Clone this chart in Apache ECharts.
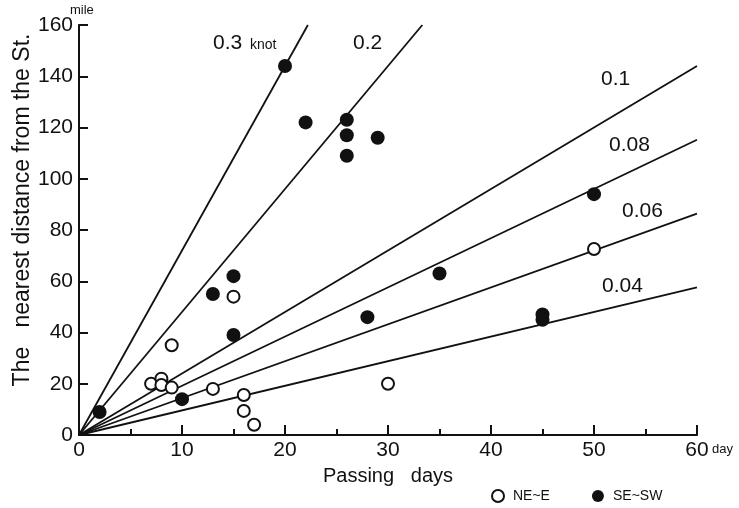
<!DOCTYPE html>
<html>
<head>
<meta charset="utf-8">
<script src="https://cdn.jsdelivr.net/npm/echarts@6/dist/echarts.min.js"></script>
<style>
html,body{margin:0;padding:0;background:#fff;}
#chart{width:739px;height:508px;}
</style>
</head>
<body>
<div id="chart"></div>
<script>
// Speeds in knots; lines drawn as distance = knots * 24 * days
var speeds = [0.3, 0.2, 0.1, 0.08, 0.06, 0.04];
var xMax = 60, yMax = 160;
var xTicks = [0, 10, 20, 30, 40, 50, 60];
var yTicks = [0, 20, 40, 60, 80, 100, 120, 140, 160];

// NE~E (open circles): [days, miles]
var neE = [
  [7, 20], [8, 22], [8, 19.5], [9, 18.5], [9, 35], [13, 18],
  [15, 54], [16, 15.6], [16, 9.4], [17, 4], [30, 20], [50, 72.6]
];
// SE~SW (filled circles): [days, miles]
var seSW = [
  [2, 9], [10, 14], [13, 55], [15, 62], [15, 39], [20, 144],
  [22, 122], [26, 123], [26, 117], [26, 109], [29, 116],
  [28, 46], [35, 63], [45, 47], [45, 45], [50, 94]
];

function lineData(k) {
  var perDay = k * 24;
  var xEnd = Math.min(xMax, yMax / perDay);
  return [[0, 0], [xEnd, xEnd * perDay]];
}

var FONT = '"Liberation Sans", Arial, Helvetica, sans-serif';

var series = speeds.map(function (k) {
  return {
    type: 'line',
    data: lineData(k),
    showSymbol: false,
    symbol: 'none',
    silent: true,
    lineStyle: { color: '#111', width: 1.8 },
    z: 2
  };
});

series.push({
  name: 'NE~E',
  type: 'scatter',
  data: neE,
  symbol: 'circle',
  symbolSize: 12,
  itemStyle: { color: '#fff', borderColor: '#111', borderWidth: 2, opacity: 1 },
  z: 5
});
series.push({
  name: 'SE~SW',
  type: 'scatter',
  data: seSW,
  symbol: 'circle',
  symbolSize: 14,
  itemStyle: { color: '#111', opacity: 1 },
  z: 5
});

var chart = echarts.init(document.getElementById('chart'), null, { renderer: 'canvas' });
chart.setOption({
  backgroundColor: '#fff',
  animation: false,
  textStyle: { fontFamily: FONT },
  grid: { left: 79, right: 42, top: 25, bottom: 73, containLabel: false },
  legend: {
    data: [
      { name: 'NE~E', icon: 'circle', itemStyle: { color: '#fff', borderColor: '#111', borderWidth: 2 } },
      { name: 'SE~SW', icon: 'circle', itemStyle: { color: '#111' } }
    ],
    left: 486,
    top: 484,
    itemWidth: 12,
    itemHeight: 12,
    itemGap: 42,
    textStyle: { fontFamily: FONT, fontSize: 14, color: '#111', padding: [0, 0, 0, 4] }
  },
  xAxis: {
    type: 'value',
    min: 0, max: xMax, interval: 10,
    name: 'Passing   days',
    nameLocation: 'middle',
    nameGap: 31,
    nameTextStyle: { fontFamily: FONT, fontSize: 20, color: '#111' },
    axisLine: { show: true, lineStyle: { color: '#111', width: 2 } },
    axisTick: { show: true, inside: true, length: 10, lineStyle: { color: '#111', width: 2 } },
    minorTick: { show: true, splitNumber: 2, length: 6, lineStyle: { color: '#111', width: 2 } },
    axisLabel: { fontFamily: FONT, fontSize: 21, color: '#111', margin: 5,
      formatter: function (v) { return xTicks.indexOf(v) >= 0 ? String(v) : ''; } },
    splitLine: { show: false }
  },
  yAxis: {
    type: 'value',
    min: 0, max: yMax, interval: 20,
    axisLine: { show: true, onZero: false, lineStyle: { color: '#111', width: 2 } },
    axisTick: { show: true, inside: true, length: 9, lineStyle: { color: '#111', width: 2 } },
    axisLabel: { fontFamily: FONT, fontSize: 21, color: '#111', margin: 6,
      formatter: function (v) { return yTicks.indexOf(v) >= 0 ? String(v) : ''; } },
    splitLine: { show: false }
  },
  graphic: [
    { type: 'text', x: 23, y: 210, rotation: Math.PI / 2,
      style: { text: 'The   nearest distance from the St.', font: '23px ' + FONT, fill: '#111',
        align: 'center', verticalAlign: 'middle' } },
    { type: 'text', x: 70, y: 4, style: { text: 'mile', font: '13px ' + FONT, fill: '#111' } },
    { type: 'text', x: 712, y: 443, style: { text: 'day', font: '13px ' + FONT, fill: '#111' } },
    { type: 'text', x: 213, y: 33, style: { text: '0.3', font: '21px ' + FONT, fill: '#111' } },
    { type: 'text', x: 250, y: 38, style: { text: 'knot', font: '14px ' + FONT, fill: '#111' } },
    { type: 'text', x: 353, y: 33, style: { text: '0.2', font: '21px ' + FONT, fill: '#111' } },
    { type: 'text', x: 601, y: 69, style: { text: '0.1', font: '21px ' + FONT, fill: '#111' } },
    { type: 'text', x: 609, y: 135, style: { text: '0.08', font: '21px ' + FONT, fill: '#111' } },
    { type: 'text', x: 622, y: 201, style: { text: '0.06', font: '21px ' + FONT, fill: '#111' } },
    { type: 'text', x: 602, y: 276, style: { text: '0.04', font: '21px ' + FONT, fill: '#111' } }
  ],
  series: series
});
</script>
</body>
</html>
